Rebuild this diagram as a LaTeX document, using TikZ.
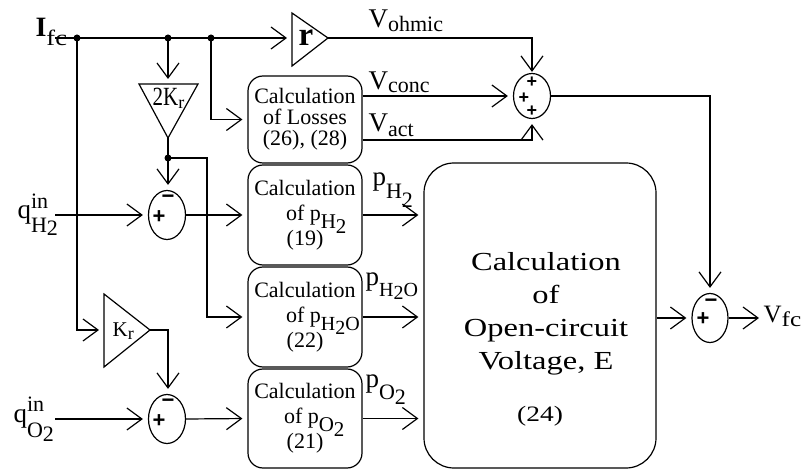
\documentclass[tikz,border=0pt]{standalone}
\usepackage{fontspec}
\setmainfont{Liberation Serif}
\newfontfamily\signfont{Liberation Sans}
\usetikzlibrary{arrows.meta,shapes.geometric,calc}
\newcommand\fL{\fontsize{27}{27}\selectfont}
\newcommand\fS{\fontsize{22}{22}\selectfont}
\newcommand\dn[2]{\raisebox{-#1}[0pt][0pt]{#2}}
\newcommand\hsc[1]{\scalebox{1.25}[1]{#1}}
\begin{document}
\begin{tikzpicture}[x=1pt,y=-1pt,
  line width=1.2pt,
  >={Straight Barb[length=15pt,width=22pt,line width=1.2pt]},
  ar/.style={->,shorten >=5pt},
  blk/.style={draw,rounded corners=15pt,minimum width=114pt,inner sep=0pt,
    font=\fontsize{22}{25}\selectfont,align=center},
  sumn/.style={draw,ellipse,minimum width=37pt,minimum height=49pt,inner sep=0pt},
  sgn/.style={inner sep=0pt,font=\signfont\bfseries\fontsize{22}{22}\selectfont},
  sgs/.style={inner sep=0pt,font=\signfont\bfseries\fontsize{18}{18}\selectfont},
  lbl/.style={anchor=base west,inner sep=0pt},
  dotn/.style={circle,fill,inner sep=0pt,minimum size=7pt}
]
\useasboundingbox (0,0) rectangle (801,470);

% blocks
\node[blk,minimum height=87pt,font=\fontsize{22}{21}\selectfont] (loss) at (305,119.5)
  {Calculation\\of Losses\\(26), (28)};
\node[blk,minimum height=100pt] (ph2) at (305,215)
  {Calculation\\\makebox[100pt][l]{\hspace{31pt}of p\dn{8pt}{\fontsize{21}{21}\selectfont H\dn{5pt}{2}}}\\(19)};
\node[blk,minimum height=100pt] (ph2o) at (305,317)
  {Calculation\\\makebox[100pt][l]{\hspace{31pt}of p\dn{8pt}{\fontsize{20}{20}\selectfont H\dn{4pt}{2}O}}\\(22)};
\node[blk,minimum height=99pt] (po2) at (305,418.5)
  {Calculation\\\makebox[100pt][l]{\hspace{29pt}of p\dn{8pt}{\fontsize{21}{21}\selectfont O\dn{5pt}{2}}}\\(21)};
\node[draw,rounded corners=30pt,minimum width=232pt,minimum height=305pt,inner sep=0pt] (E) at (540,315.5) {};
\node[inner sep=0pt,font=\fontsize{26}{33}\selectfont] (Etxt) at (546,313)
  {\hsc{\begin{tabular}{@{}c@{}}Calculation\\ of\\ Open-circuit\\ Voltage, E\end{tabular}}};
\node[inner sep=0pt,font=\fontsize{22}{22}\selectfont] (E24) at (540,416) {\hsc{(24)}};

% triangles
\draw (292,13) -- (328,38) -- (292,66) -- cycle;
\coordinate (rin) at (292,38); \coordinate (rout) at (328,38);
\node[lbl] (rl) at (298,46) {\fontsize{33}{33}\selectfont\bfseries r};
\draw (139,84) -- (198,84) -- (168,138) -- cycle;
\coordinate (k2in) at (168,84); \coordinate (k2out) at (168,138);
\node[lbl] (k2l) at (152,106) {\fontsize{21}{21}\selectfont\scalebox{1}[1.25]{2K}\dn{3pt}{\fontsize{18}{18}\selectfont r}};
\draw (104,294) -- (150,330) -- (104,367) -- cycle;
\coordinate (krin) at (104,330); \coordinate (krout) at (150,330);
\node[lbl] (krl) at (112,337) {\fontsize{21}{21}\selectfont K\dn{3pt}{\fontsize{18}{18}\selectfont r}};

% summing junctions
\node[sumn] (s1) at (167,215) {};
\node[sumn] (s2) at (167,419) {};
\node[sumn,minimum height=45pt] (sA) at (532,96) {};
\node[sumn,minimum width=36pt] (s3) at (710,318) {};
\node[sgn] at ($(s1)+(1,-16)$) {−};
\node[sgn] at ($(s1)+(-8,2)$) {+};
\node[sgn] at ($(s2)+(1,-16)$) {−};
\node[sgn] at ($(s2)+(-8,2)$) {+};
\node[sgs] at ($(sA)+(0,-13.5)$) {+};
\node[sgs] at ($(sA)+(-8,2)$) {+};
\node[sgs] at ($(sA)+(0,15.5)$) {+};
\node[sgn] at ($(s3)+(1,-15)$) {−};
\node[sgn] at ($(s3)+(-7,1)$) {+};

% coordinates
\coordinate (ifc) at (55,38);
\coordinate (qh2) at (55,215);
\coordinate (qo2) at (55,419);
\node[dotn] (d1) at (77,38) {};
\node[dotn] (d2) at (168,38) {};
\node[dotn] (d3) at (211,38) {};
\node[dotn] (d4) at (168,158) {};
\coordinate (c4) at (207,158);
\coordinate (va) at ($(loss.east)+(0,20.5)$);
\coordinate (vfc) at (764,318);

% connectors
\draw[ar] (ifc) -- (rin);
\draw[ar] (d2.center) -- (k2in);
\draw (k2out) -- (d4.center);
\draw[ar] (d4.center) -- (s1.north -| d4.center);
\draw[ar] (d4.center) -- (c4) |- (ph2o.west);
\draw[ar] (d3.center) |- (loss.west);
\draw[ar] (d1.center) |- (krin);
\draw[ar] (krout) -| (s2.north -| d4.center);
\draw[ar] (qh2) -- (s1.west);
\draw[ar] (qo2) -- (s2.west);
\draw[ar] (s1.east) -- (ph2.west);
\draw[ar] (s2.east) -- (po2.west);
\draw[->,shorten >=1pt] (rout) -| (sA.north);
\draw[ar] (loss.east |- sA.west) -- (sA.west);
\draw[ar] (va) -| (sA.south);
\draw[ar] (sA.east) -| (s3.north);
\draw[ar] (ph2.east) -- (ph2.east -| E.west);
\draw[ar] (ph2o.east) -- (ph2o.east -| E.west);
\draw[ar] (po2.east) -- (po2.east -| E.west);
\draw[ar] (E.east |- s3.west) -- (s3.west);
\draw[ar] (s3.east) -- (vfc);

% labels
\node[lbl] (lifc) at (35,37) {\fontsize{28}{28}\selectfont\bfseries I\dn{9pt}{\fontsize{22}{22}\selectfont\mdseries\scalebox{1.2}[1]{fc}}};
\node[lbl] (lqh2) at (17,219) {\fL q\rlap{\raisebox{10pt}{\fS in}}\dn{14pt}{\fS H\dn{3pt}{2}}};
\node[lbl] (lqo2) at (13,423) {\fL q\rlap{\raisebox{11pt}{\fS in}}\dn{15pt}{\fS O\dn{3pt}{2}}};
\node[lbl] (lvo) at (368,28) {\fL V\dn{4pt}{\fS ohmic}};
\node[lbl] (lvc) at (368,90) {\fL V\dn{3pt}{\fS conc}};
\node[lbl] (lva) at (368,132) {\fL V\dn{5pt}{\fS act}};
\node[lbl] (lph2) at (372,186) {\fL p\dn{13pt}{\fS H\dn{9pt}{2}}};
\node[lbl] (lph2o) at (365,286) {\fL p\dn{11pt}{\fontsize{20}{20}\selectfont H\dn{3pt}{2}O}};
\node[lbl] (lpo2) at (365,388) {\fL p\dn{12pt}{\fS O\dn{5pt}{2}}};
\node[lbl] (lvfc) at (763,323) {\fontsize{25}{25}\selectfont V\dn{4pt}{\fontsize{21}{21}\selectfont\scalebox{1.2}[1]{fc}}};
\end{tikzpicture}
\end{document}
